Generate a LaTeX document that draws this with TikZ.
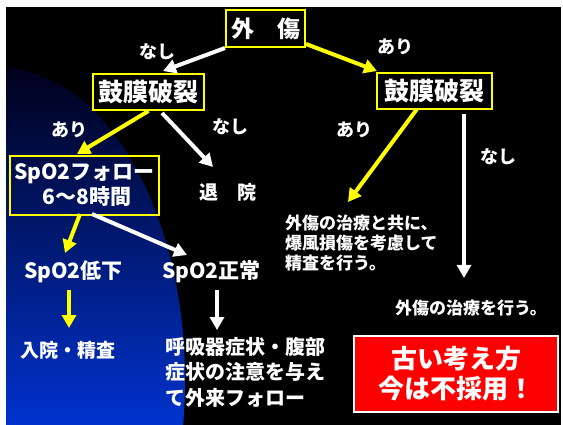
\documentclass[tikz,border=0pt]{standalone}
\usepackage{fontspec}
\setmainfont{Noto Sans CJK JP}
\usetikzlibrary{arrows.meta,calc}
\definecolor{ylw}{RGB}{255,255,0}
\definecolor{redbox}{RGB}{255,0,0}
\definecolor{bluetop}{RGB}{0,0,25}
\definecolor{bluemid}{RGB}{0,35,150}
\definecolor{bluebot}{RGB}{0,50,205}
\tikzset{
  ybox/.style={draw=ylw, line width=2pt, inner sep=0pt, text=white, font=\bfseries},
  txt/.style={text=white, inner sep=0pt, font=\bfseries},
  lbl/.style={text=white, inner sep=0pt, font=\bfseries\fontsize{18}{20}\selectfont},
  warr/.style={draw=white, line width=4pt, -{Triangle[length=13pt,width=14pt]}},
  yarr/.style={draw=ylw, line width=4pt, -{Triangle[length=13pt,width=14pt]}},
}
\begin{document}
\begin{tikzpicture}[x=1pt,y=-1pt]
\useasboundingbox (0,0) rectangle (563,425);
\fill[white] (0,0) rectangle (563,425);
\fill[black] (6,7) rectangle (561,425);
% blue gradient area
\begin{scope}
  \clip (6,7) rectangle (561,425);
  \clip (0,380) ellipse [x radius=185pt, y radius=312pt];
  \shade[top color=bluetop, middle color=bluemid, bottom color=bluebot] (0,63) rectangle (200,425);
\end{scope}
% boxes
\node[ybox, minimum width=79pt, minimum height=37pt, font=\bfseries\fontsize{23}{25}\selectfont] (trauma) at (265.5,28.5) {外　傷};
\node[ybox, minimum width=111pt, minimum height=36pt, font=\bfseries\fontsize{25}{27}\selectfont] (lkm) at (148.5,92) {鼓膜破裂};
\node[ybox, minimum width=115pt, minimum height=36pt, font=\bfseries\fontsize{25}{27}\selectfont] (rkm) at (434.5,91) {鼓膜破裂};
\node[ybox, minimum width=149pt, minimum height=59pt, align=center, font=\bfseries\fontsize{21}{25}\selectfont] (spo) at (84.5,185.5) {SpO2フォロー\\\ 6～8時間};
% texts
\node[txt, font=\bfseries\fontsize{19}{21}\selectfont] (taiin) at (228,192) {退　院};
\node[txt, font=\bfseries\fontsize{21}{23}\selectfont] (low) at (73.5,272) {SpO2低下};
\node[txt, font=\bfseries\fontsize{21}{23}\selectfont] (norm) at (211.5,272) {SpO2正常};
\node[txt, font=\bfseries\fontsize{19}{21}\selectfont] (admit) at (67.5,350) {入院・精査};
\node[txt, anchor=west, align=left, font=\bfseries\fontsize{20}{25.5}\selectfont] (resp) at (165,372) {呼吸器症状・腹部\\症状の注意を与え\\て外来フォロー};
\node[txt, anchor=west, align=left, font=\bfseries\fontsize{17}{20}\selectfont] (txtA) at (285,243) {外傷の治療と共に、\\爆風損傷を考慮して\\精査を行う。};
\node[txt, font=\bfseries\fontsize{17}{20}\selectfont] (txtB) at (471,308) {外傷の治療を行う。};
\node[draw=white, line width=1.5pt, fill=redbox, minimum width=204pt, minimum height=76pt, inner sep=0pt, align=center, text=white, font=\bfseries\fontsize{26}{30}\selectfont] (old) at (456,374) {古い考え方\\今は不採用！};
% labels
\node[lbl] (l1) at (157,52) {なし};
\node[lbl] (l2) at (69,130) {あり};
\node[lbl] (l3) at (230,127) {なし};
\node[lbl] (l4) at (395,47) {あり};
\node[lbl] (l5) at (354,130) {あり};
\node[lbl] (l6) at (498,157) {なし};
% arrows
\draw[warr] (trauma.south west) -- ($(lkm.north)+(14.5,-2)$);
\draw[yarr] ($(trauma.south east)+(0,-4)$) -- ($(rkm.north west)+(1,-1)$);
\draw[yarr] (lkm.south) -- ($(spo.north)+(-7.5,-1)$);
\draw[warr] ($(lkm.south)+(13.5,2)$) -- ($(taiin.center)+(-15,-25)$);
\draw[yarr] ($(rkm.south)+(-17.5,-1)$) -- ($(txtA.west)+(63,-41)$);
\draw[warr] ($(rkm.south)+(29.5,4)$) -- ($(txtB.center)+(-7,-30)$);
\draw[yarr] ($(spo.south)+(-4.5,-2)$) -- ($(low.center)+(-8.5,-19)$);
\draw[warr] ($(spo.south)+(7.5,-2)$) -- ($(norm.center)+(-24.5,-17)$);
\draw[yarr] ($(low.center)+(-4.5,18)$) -- ($(admit.center)+(1.5,-22)$);
\draw[warr] ($(norm.center)+(5.5,18)$) -- ($(resp.west)+(52,-42)$);
\end{tikzpicture}
\end{document}
